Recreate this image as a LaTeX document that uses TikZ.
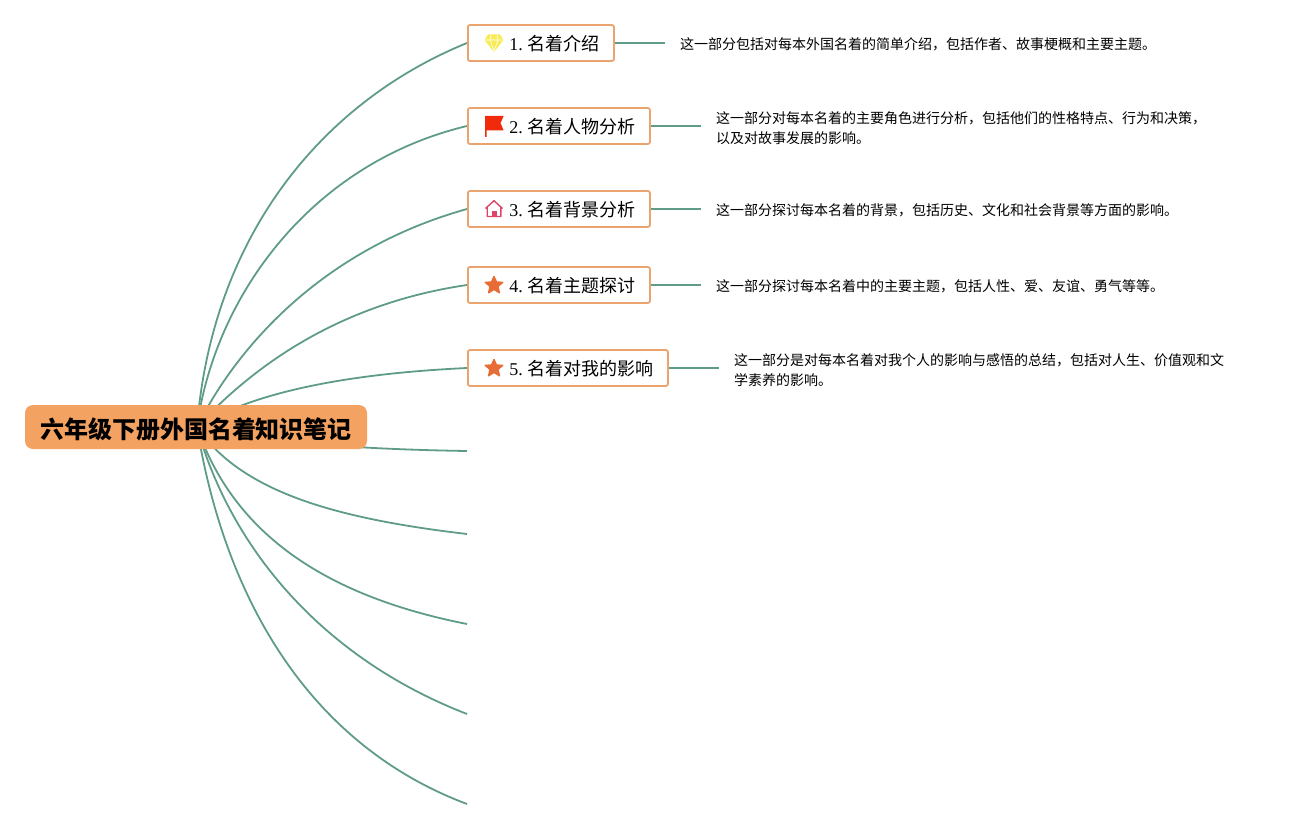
\documentclass[tikz,border=0pt]{standalone}
\usepackage{fontspec}
\setmainfont{Liberation Serif}
\newfontfamily\cjk{Noto Sans CJK SC}
\usetikzlibrary{positioning,backgrounds}
\definecolor{rootfill}{HTML}{F4A261}
\definecolor{boxline}{HTML}{E9A46F}
\definecolor{branch}{HTML}{5F9C88}
\definecolor{gemyellow}{HTML}{F8EC55}
\definecolor{flagred}{HTML}{F22A0C}
\definecolor{housered}{HTML}{DE4468}
\definecolor{starorange}{HTML}{E86C35}
\tikzset{
  pics/gem/.style={code={
    \fill [gemyellow] (-6,-8.5) -- (6,-8.5) -- (9.5,-3) -- (0,9) -- (-9.5,-3) -- cycle;
    \draw [white, line width=.6pt] (-9,-3) -- (9,-3) (-3,-8) -- (-4,-3) -- (0,8) -- (4,-3) -- (3,-8);
  }},
  pics/flag/.style={code={
    \fill [flagred] (-9,-10) -- (9.7,-10) -- (6.5,-3) -- (9.7,4.5) -- (-7.3,4.5) -- (-7.3,11) -- (-9,11) -- cycle;
  }},
  pics/house/.style={code={
    \draw [housered, line width=1.4pt, line join=round] (-8.5,-.5) -- (0,-8.3) -- (8.5,-.5) (-6.8,-2) -- (-6.8,7.5) -- (6.8,7.5) -- (6.8,-2);
    \fill [housered] (-2.5,7.5) rectangle (2.5,2);
  }},
  pics/starmark/.style={code={
    \fill [starorange, line join=round, draw=starorange, line width=1.4pt]
      (0,-8.5) -- (2.5,-3) -- (8.7,-2.6) -- (4,1.4) -- (5.4,7.8) -- (0,4.4) -- (-5.4,7.8) -- (-4,1.4) -- (-8.7,-2.6) -- (-2.5,-3) -- cycle;
  }}
}
\begin{document}
\begin{tikzpicture}[x=1pt, y=-1pt, node distance=50pt]
      % Define block styles
      \tikzstyle{rootblock} = [rectangle, fill=rootfill, rounded corners=8pt, minimum width=342pt, minimum height=44pt, text height=23pt, text depth=1pt, font=\cjk\bfseries\fontsize{24}{28}\selectfont]
      \tikzstyle{topic} = [rectangle, draw=boxline, fill=white, line width=1.8pt, rounded corners=2pt, anchor=west, minimum height=36pt, inner xsep=14pt, text height=16pt, text depth=1pt, font=\fontsize{18}{22}\selectfont]
      \tikzstyle{note} = [inner xsep=15pt, inner ysep=0pt, align=left, font=\cjk\fontsize{14}{20}\selectfont]
      \tikzstyle{line} = [draw=branch, line width=1.8pt]

      \useasboundingbox (0,0) rectangle (1293,829);

      % Place blocks
      \node [rootblock] (root) at (196,427) {六年级下册外国名着知识笔记};
      \node [topic] (topic1) at (467,43) {\hspace*{27.5pt}1.\hspace{5pt}{\cjk 名着介绍}};
      \node [topic] (topic2) at (467,126) {\hspace*{27.5pt}2.\hspace{5pt}{\cjk 名着人物分析}};
      \node [topic] (topic3) at (467,209) {\hspace*{27.5pt}3.\hspace{5pt}{\cjk 名着背景分析}};
      \node [topic] (topic4) at (467,285) {\hspace*{27.5pt}4.\hspace{5pt}{\cjk 名着主题探讨}};
      \node [topic] (topic5) at (467,368) {\hspace*{27.5pt}5.\hspace{5pt}{\cjk 名着对我的影响}};

      \node [note, right=of topic1, yshift=-1pt] (note1) {这一部分包括对每本外国名着的简单介绍，包括作者、故事梗概和主要主题。};
      \node [note, right=of topic2, yshift=-2pt] (note2) {这一部分对每本名着的主要角色进行分析，包括他们的性格特点、行为和决策，\\以及对故事发展的影响。};
      \node [note, right=of topic3, yshift=-1pt] (note3) {这一部分探讨每本名着的背景，包括历史、文化和社会背景等方面的影响。};
      \node [note, right=of topic4, yshift=-1pt] (note4) {这一部分探讨每本名着中的主要主题，包括人性、爱、友谊、勇气等等。};
      \node [note, right=of topic5, yshift=-2pt] (note5) {这一部分是对每本名着对我个人的影响与感悟的总结，包括对人生、价值观和文\\学素养的影响。};

      % Icons
      \pic (icon1) at ([xshift=27pt]topic1.west) {gem};
      \pic (icon2) at ([xshift=27pt]topic2.west) {flag};
      \pic (icon3) at ([xshift=27pt]topic3.west) {house};
      \pic (icon4) at ([xshift=27pt]topic4.west) {starmark};
      \pic (icon5) at ([xshift=27pt]topic5.west) {starmark};

      % Free ends of the empty branches
      \coordinate (hub) at (197,427);
      \coordinate (end6) at (467,451);
      \coordinate (end7) at (467,534);
      \coordinate (end8) at (467,624);
      \coordinate (end9) at (467,714);
      \coordinate (end10) at (467,804);

      % Draw lines
      \begin{pgfonlayer}{background}
      \path [line] (hub) .. controls (212,238) and (320,103) .. (topic1.west);
      \path [line] (hub) .. controls (215,295) and (312,163) .. (topic2.west);
      \path [line] (hub) .. controls (235,350) and (320,250) .. (topic3.west);
      \path [line] (hub) .. controls (245,375) and (330,305) .. (topic4.west);
      \path [line] (hub) .. controls (250,394) and (340,374) .. (topic5.west);
      \path [line] (hub) .. controls (250,440) and (340,449) .. (end6);
      \path [line] (hub) .. controls (240,490) and (330,518) .. (end7);
      \path [line] (hub) .. controls (232,530) and (320,595) .. (end8);
      \path [line] (hub) .. controls (228,540) and (315,655) .. (end9);
      \path [line] (hub) .. controls (225,600) and (310,745) .. (end10);
      \path [line] (topic1) -- (topic1 -| note1.west);
      \path [line] (topic2) -- (topic2 -| note2.west);
      \path [line] (topic3) -- (topic3 -| note3.west);
      \path [line] (topic4) -- (topic4 -| note4.west);
      \path [line] (topic5) -- (topic5 -| note5.west);
      \end{pgfonlayer}
\end{tikzpicture}
\end{document}
